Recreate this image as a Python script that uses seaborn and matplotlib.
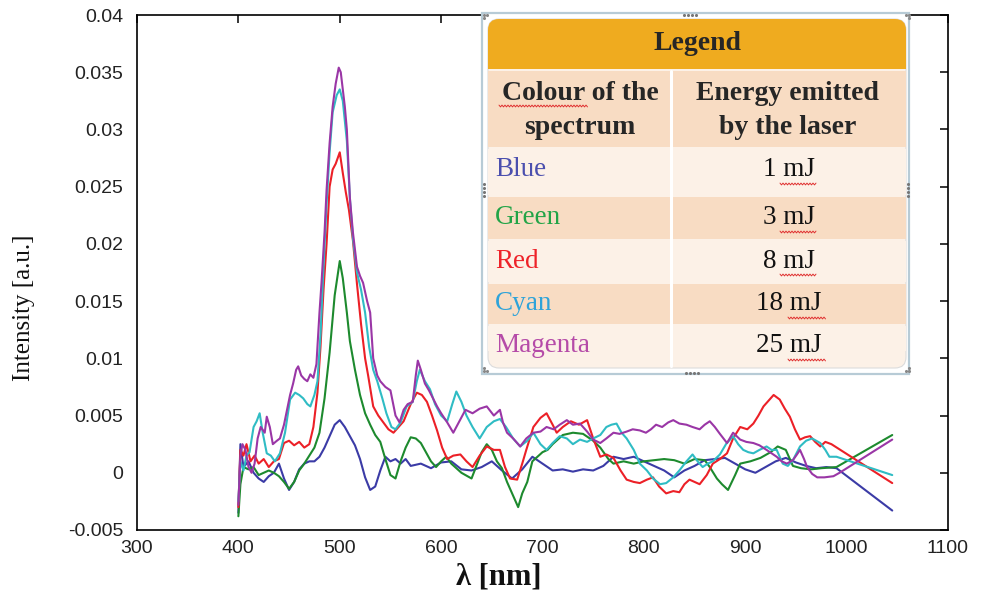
import numpy as np
import pandas as pd
import matplotlib
matplotlib.use("Agg")
import matplotlib.pyplot as plt
from matplotlib.patches import FancyBboxPatch, Rectangle
import seaborn as sns

# ---------------- data ----------------
wl_blue = [400, 402, 405, 410, 415, 420, 425, 430, 435, 440, 445, 450, 455, 460, 465, 470, 475, 480,
           485, 490, 495, 500, 505, 510, 515, 520, 525, 530, 535, 540, 545, 550, 555, 560, 565, 570,
           580, 590, 600, 610, 620, 630, 640, 650, 660, 670, 680, 690, 700, 710, 720, 730, 740, 750,
           760, 770, 780, 790, 800, 810, 820, 830, 840, 850, 860, 870, 880, 890, 900, 910, 920, 930,
           940, 950, 960, 970, 980, 990, 1045]
int_blue = [-0.0035, 0.0025, 0.0005, 0.0010, 0.0000, -0.0005, -0.0008, -0.0003, 0.0000, 0.0008, -0.0005,
            -0.0015, -0.0008, 0.0003, 0.0008, 0.0010, 0.0010, 0.0014, 0.0022, 0.0032, 0.0042, 0.0046,
            0.0040, 0.0032, 0.0024, 0.0012, -0.0004, -0.0015, -0.0012, 0.0002, 0.0014, 0.0010, 0.0012,
            0.0008, 0.0012, 0.0006, 0.0008, 0.0004, 0.0009, 0.0010, 0.0003, 0.0002, 0.0005, 0.0010,
            0.0002, -0.0005, 0.0003, 0.0014, 0.0008, 0.0002, 0.0003, 0.0001, 0.0003, 0.0002, 0.0006,
            0.0014, 0.0012, 0.0014, 0.0010, 0.0006, 0.0002, -0.0004, 0.0002, 0.0006, 0.0011, 0.0012,
            0.0013, 0.0008, 0.0003, 0.0000, 0.0005, 0.0010, 0.0013, 0.0009, 0.0006, 0.0004, 0.0005,
            0.0004, -0.0033]

wl_green = [400, 402, 405, 410, 415, 420, 425, 430, 435, 440, 445, 450, 455, 460, 465, 470, 475, 480,
            485, 490, 495, 500, 503, 507, 510, 515, 520, 525, 530, 535, 540, 545, 550, 555, 560, 565,
            570, 575, 580, 585, 590, 595, 600, 605, 610, 620, 630, 640, 645, 650, 655, 660, 665, 670,
            676, 680, 685, 690, 700, 705, 710, 720, 730, 740, 750, 757, 765, 770, 780, 790, 800, 810,
            820, 830, 840, 850, 860, 865, 872, 877, 883, 890, 895, 905, 915, 925, 932, 940, 947, 955,
            965, 975, 990, 1045]
int_green = [-0.0038, -0.0010, 0.0005, 0.0003, 0.0005, -0.0002, 0.0000, 0.0002, 0.0000, -0.0003, -0.0008,
             -0.0014, -0.0008, 0.0002, 0.0008, 0.0015, 0.0022, 0.0035, 0.0065, 0.0105, 0.0155, 0.0185,
             0.0170, 0.0140, 0.0115, 0.0090, 0.0068, 0.0052, 0.0042, 0.0033, 0.0027, 0.0012, -0.0002,
             -0.0005, 0.0010, 0.0022, 0.0031, 0.0030, 0.0026, 0.0018, 0.0010, 0.0005, 0.0010, 0.0014,
             0.0008, 0.0000, -0.0005, 0.0018, 0.0025, 0.0020, 0.0010, 0.0004, -0.0008, -0.0018, -0.0030,
             -0.0018, -0.0008, 0.0010, 0.0018, 0.0020, 0.0025, 0.0033, 0.0035, 0.0034, 0.0028, 0.0022,
             0.0012, 0.0008, 0.0010, 0.0008, 0.0010, 0.0011, 0.0012, 0.0011, 0.0008, 0.0012, 0.0011,
             0.0005, -0.0005, -0.0010, -0.0015, -0.0002, 0.0008, 0.0010, 0.0013, 0.0018, 0.0023, 0.0020,
             0.0006, 0.0004, 0.0003, 0.0004, 0.0005, 0.0033]

wl_red = [400, 402, 405, 408, 412, 416, 420, 425, 430, 435, 440, 445, 450, 455, 460, 465, 470, 474, 478,
          481, 484, 487, 490, 493, 496, 500, 503, 506, 509, 513, 517, 521, 525, 528, 533, 538, 543, 548,
          553, 558, 563, 570, 576, 581, 586, 591, 596, 601, 606, 612, 619, 625, 631, 638, 645, 652, 658,
          663, 668, 675, 680, 684, 691, 698, 704, 710, 714, 720, 728, 736, 744, 750, 757, 763, 770, 777,
          783, 790, 796, 803, 809, 815, 822, 829, 835, 840, 845, 850, 855, 862, 868, 875, 882, 888, 895,
          902, 908, 913, 918, 923, 928, 934, 939, 944, 949, 954, 959, 964, 969, 974, 979, 985, 1045]
int_red = [-0.0030, 0.0020, 0.0015, 0.0025, 0.0010, 0.0015, 0.0008, 0.0012, 0.0005, 0.0010, 0.0012,
           0.0026, 0.0028, 0.0024, 0.0027, 0.0022, 0.0025, 0.0040, 0.0070, 0.0110, 0.0160, 0.0200,
           0.0250, 0.0265, 0.0270, 0.0280, 0.0262, 0.0245, 0.0230, 0.0203, 0.0165, 0.0130, 0.0100,
           0.0085, 0.0058, 0.0050, 0.0044, 0.0038, 0.0035, 0.0040, 0.0045, 0.0060, 0.0070, 0.0068,
           0.0062, 0.0050, 0.0037, 0.0022, 0.0012, 0.0015, 0.0016, 0.0010, 0.0005, 0.0015, 0.0023,
           0.0020, 0.0020, 0.0005, -0.0005, -0.0006, 0.0008, 0.0020, 0.0040, 0.0048, 0.0052, 0.0042,
           0.0035, 0.0040, 0.0045, 0.0042, 0.0046, 0.0030, 0.0014, 0.0016, 0.0013, 0.0002, -0.0006,
           -0.0008, -0.0009, -0.0006, -0.0004, -0.0012, -0.0018, -0.0016, -0.0017, -0.0010, -0.0006,
           -0.0008, -0.0010, -0.0002, 0.0008, 0.0012, 0.0017, 0.0030, 0.0040, 0.0038, 0.0043, 0.0050,
           0.0058, 0.0063, 0.0068, 0.0064, 0.0056, 0.0049, 0.0038, 0.0029, 0.0031, 0.0032, 0.0027,
           0.0023, 0.0027, 0.0025, -0.0009]

wl_cyan = [400, 402, 405, 408, 411, 415, 418, 421, 424, 428, 432, 436, 441, 446, 451, 456, 460, 464, 468,
           471, 475, 478, 481, 484, 487, 490, 493, 497, 500, 503, 507, 510, 513, 517, 521, 525, 529, 533,
           537, 542, 546, 551, 555, 560, 566, 572, 576, 579, 584, 589, 594, 600, 606, 611, 615, 620, 625,
           631, 638, 645, 652, 658, 664, 671, 678, 685, 691, 698, 704, 710, 717, 724, 730, 737, 744, 750,
           757, 763, 768, 773, 778, 783, 790, 796, 803, 809, 816, 822, 829, 835, 842, 848, 853, 858, 863,
           868, 875, 881, 888, 893, 898, 903, 908, 914, 921, 926, 931, 937, 942, 947, 954, 960, 966, 970,
           974, 979, 983, 990, 1045]
int_cyan = [-0.0025, 0.0010, 0.0002, 0.0015, 0.0018, 0.0040, 0.0045, 0.0052, 0.0035, 0.0017, 0.0015,
            0.0010, 0.0017, 0.0035, 0.0064, 0.0070, 0.0068, 0.0065, 0.0060, 0.0058, 0.0068, 0.0080,
            0.0120, 0.0180, 0.0235, 0.0280, 0.0315, 0.0330, 0.0335, 0.0325, 0.0290, 0.0240, 0.0205,
            0.0175, 0.0160, 0.0140, 0.0110, 0.0090, 0.0080, 0.0065, 0.0052, 0.0040, 0.0038, 0.0044,
            0.0058, 0.0062, 0.0080, 0.0090, 0.0080, 0.0073, 0.0060, 0.0050, 0.0045, 0.0060, 0.0071,
            0.0062, 0.0050, 0.0040, 0.0030, 0.0040, 0.0045, 0.0047, 0.0040, 0.0030, 0.0023, 0.0028,
            0.0035, 0.0025, 0.0020, 0.0026, 0.0032, 0.0030, 0.0025, 0.0029, 0.0027, 0.0030, 0.0033,
            0.0040, 0.0042, 0.0043, 0.0035, 0.0030, 0.0020, 0.0008, 0.0002, -0.0005, -0.0010, -0.0009,
            -0.0004, 0.0002, 0.0010, 0.0016, 0.0010, 0.0005, 0.0008, 0.0010, 0.0016, 0.0025, 0.0032,
            0.0025, 0.0020, 0.0018, 0.0017, 0.0020, 0.0023, 0.0020, 0.0020, 0.0008, 0.0006, 0.0011,
            0.0023, 0.0028, 0.0030, 0.0028, 0.0026, 0.0020, 0.0014, 0.0014, -0.0002]

wl_magenta = [400, 402, 404, 407, 410, 413, 416, 419, 422, 426, 428, 431, 434, 438, 441, 445, 448, 451,
              454, 457, 459, 462, 465, 468, 471, 474, 477, 480, 482, 485, 487, 490, 493, 496, 499, 501,
              503, 505, 507, 510, 513, 517, 520, 523, 527, 530, 533, 537, 540, 545, 550, 555, 559, 563,
              567, 572, 575, 577, 580, 584, 588, 592, 596, 600, 606, 612, 618, 624, 631, 638, 645, 652,
              658, 661, 665, 671, 678, 684, 691, 698, 704, 711, 717, 724, 730, 737, 744, 750, 757, 763,
              770, 776, 783, 789, 796, 802, 807, 812, 818, 824, 829, 835, 842, 848, 855, 860, 865, 870,
              875, 882, 888, 895, 901, 908, 914, 921, 926, 931, 936, 941, 947, 951, 954, 958, 961, 966,
              971, 978, 987, 993, 1045]
int_magenta = [-0.0028, 0.0015, 0.0025, 0.0020, 0.0005, 0.0000, 0.0008, 0.0030, 0.0040, 0.0035, 0.0049,
               0.0040, 0.0025, 0.0028, 0.0030, 0.0042, 0.0055, 0.0068, 0.0078, 0.0090, 0.0093, 0.0085,
               0.0082, 0.0080, 0.0086, 0.0083, 0.0095, 0.0140, 0.0166, 0.0210, 0.0247, 0.0288, 0.0320,
               0.0340, 0.0354, 0.0350, 0.0335, 0.0320, 0.0300, 0.0240, 0.0210, 0.0180, 0.0172, 0.0166,
               0.0150, 0.0140, 0.0100, 0.0085, 0.0080, 0.0075, 0.0072, 0.0050, 0.0044, 0.0055, 0.0060,
               0.0062, 0.0085, 0.0098, 0.0090, 0.0078, 0.0072, 0.0065, 0.0058, 0.0052, 0.0044, 0.0035,
               0.0045, 0.0055, 0.0052, 0.0056, 0.0058, 0.0050, 0.0055, 0.0044, 0.0035, 0.0030, 0.0023,
               0.0030, 0.0035, 0.0036, 0.0040, 0.0038, 0.0042, 0.0046, 0.0042, 0.0043, 0.0036, 0.0029,
               0.0026, 0.0030, 0.0035, 0.0034, 0.0036, 0.0038, 0.0037, 0.0035, 0.0038, 0.0042, 0.0040,
               0.0044, 0.0046, 0.0043, 0.0042, 0.0040, 0.0038, 0.0042, 0.0045, 0.0040, 0.0034, 0.0026,
               0.0035, 0.0029, 0.0027, 0.0026, 0.0024, 0.0020, 0.0017, 0.0014, 0.0010, 0.0008, 0.0011,
               0.0016, 0.0020, 0.0012, 0.0005, -0.0001, -0.0004, -0.0004, -0.0003, 0.0000, 0.0029]

series_names = ["Blue", "Green", "Red", "Cyan", "Magenta"]
energies = ["1 mJ", "3 mJ", "8 mJ", "18 mJ", "25 mJ"]
line_colors = ["#3b3ba6", "#1d8a2e", "#ec2027", "#2fbcc4", "#9a36a6"]
text_colors = ["#4b4fae", "#22a447", "#ee2229", "#2ea3d9", "#b54ba8"]

x_ticks = [300, 400, 500, 600, 700, 800, 900, 1000, 1100]
y_ticks = [-0.005, 0, 0.005, 0.01, 0.015, 0.02, 0.025, 0.03, 0.035, 0.04]
y_tick_labels = ["-0.005", "0", "0.005", "0.01", "0.015", "0.02", "0.025", "0.03", "0.035", "0.04"]

# ---------------- build frame ----------------
wls = [wl_blue, wl_green, wl_red, wl_cyan, wl_magenta]
ints = [int_blue, int_green, int_red, int_cyan, int_magenta]
frames = []
for name, w, v in zip(series_names, wls, ints):
    frames.append(pd.DataFrame({"wl": w, "I": v, "series": name}))
df = pd.concat(frames, ignore_index=True)

sns.set_theme(style="white")
plt.rcParams["font.family"] = ["Liberation Sans", "DejaVu Sans"]

W, H = 984, 596
fig = plt.figure(figsize=(W / 100, H / 100), dpi=100)
fig.patch.set_facecolor("white")
ax = fig.add_axes([137 / W, 1 - 530 / H, (948 - 137) / W, (530 - 15) / H])

sns.lineplot(data=df, x="wl", y="I", hue="series", hue_order=series_names,
             palette=dict(zip(series_names, line_colors)), estimator=None, sort=False,
             linewidth=1.5, legend=False, ax=ax)

ax.set_xlim(300, 1100)
ax.set_ylim(-0.005, 0.04)
ax.set_xticks(x_ticks)
ax.set_xticklabels([str(t) for t in x_ticks], fontsize=14, color="#222222")
ax.set_yticks(y_ticks)
ax.set_yticklabels(y_tick_labels, fontsize=14, color="#222222")
ax.tick_params(direction="in", top=True, right=True, length=6, width=1.1, color="black", pad=7)
ax.tick_params(axis="y", pad=10)
for s in ax.spines.values():
    s.set_color("black")
    s.set_linewidth(1.2)
ax.set_xlabel("")
ax.set_ylabel("")

fig.text(24 / W, 1 - 308 / H, "Intensity [a.u.]", rotation=90, ha="center", va="center",
         fontsize=18, family=["Liberation Serif", "DejaVu Serif"], color="#111111")
fig.text(499 / W, 1 - 577 / H, "λ [nm]", ha="center", va="center", fontsize=22, fontweight="bold",
         family=["Liberation Serif", "DejaVu Serif"], color="#111111")

# ---------------- legend table (pixel-coordinate overlay) ----------------
lx = fig.add_axes([0, 0, 1, 1], facecolor="none")
lx.set_xlim(0, W)
lx.set_ylim(H, 0)
lx.axis("off")

# outer frame
lx.add_patch(Rectangle((482, 13), 427, 361, facecolor="white", edgecolor="#b7cbd6", linewidth=1.6, zorder=1))
# rounded table body
L, R, T, B = 488, 906, 19, 368
lx.add_patch(FancyBboxPatch((L, T), R - L, B - T, boxstyle="round,pad=0,rounding_size=11",
                            facecolor="#fcf1e7", edgecolor="#dcdcdc", linewidth=0.8, zorder=2))
# header orange with rounded top
lx.add_patch(FancyBboxPatch((L, T), R - L, 50, boxstyle="round,pad=0,rounding_size=11",
                            facecolor="#efab1f", edgecolor="none", zorder=3))
lx.add_patch(Rectangle((L, T + 30), R - L, 20, facecolor="#efab1f", edgecolor="none", zorder=3))
peach = "#f8dcc3"
light = "#fcf1e7"
rows = [(71, 147, peach), (149, 195, light), (197, 239, peach), (241, 282, light), (284, 324, peach)]
for y0, y1, c in rows:
    lx.add_patch(Rectangle((L, y0), R - L, y1 - y0, facecolor=c, edgecolor="none", zorder=3))
# bottom row rounded light
lx.add_patch(Rectangle((L, 326), R - L, 25, facecolor=light, edgecolor="none", zorder=3))
# column divider
lx.plot([671, 671], [71, B - 2], color="white", linewidth=2.2, zorder=4)

serif = ["Liberation Serif", "DejaVu Serif"]
lx.text(697, 44, "Legend", ha="center", va="center", fontsize=20, fontweight="bold", family=serif, zorder=5)
lx.text(580, 93, "Colour of the", ha="center", va="center", fontsize=20, fontweight="bold", family=serif, zorder=5)
lx.text(580, 128, "spectrum", ha="center", va="center", fontsize=20, fontweight="bold", family=serif, zorder=5)
lx.text(788, 93, "Energy emitted", ha="center", va="center", fontsize=20, fontweight="bold", family=serif, zorder=5)
lx.text(788, 128, "by the laser", ha="center", va="center", fontsize=20, fontweight="bold", family=serif, zorder=5)

row_y = [170, 218, 261, 304, 346]
for name, e, c, yy in zip(series_names, energies, text_colors, row_y):
    lx.text(495, yy, name, ha="left", va="center", fontsize=19.5, family=serif, color=c, zorder=5)
    lx.text(789, yy, e, ha="center", va="center", fontsize=19.5, family=serif, color="#111111", zorder=5)


def squiggle(x0, x1, y):
    xs = np.arange(x0, x1 + 0.1, 1.5)
    ys = y + np.where(np.arange(len(xs)) % 2 == 0, -0.9, 0.9)
    lx.plot(xs, ys, color="#e03030", linewidth=0.7, zorder=6)


squiggle(499, 588, 106)
for e, yy in zip(energies, row_y):
    if len(e) == 4:
        squiggle(780, 817, yy + 14)
    else:
        squiggle(788, 826, yy + 14)

# grip dots on the frame
dots_x = [684, 688, 692, 696, 686, 690, 694, 698]
dots_y = [15, 15, 15, 15, 373, 373, 373, 373]
lx.scatter(dots_x, dots_y, s=1.5, color="#777777", zorder=7)
lx.scatter([484, 484, 484, 484, 908, 908, 908, 908], [184, 188, 192, 196, 184, 188, 192, 196],
           s=1.5, color="#777777", zorder=7)
lx.scatter([484, 487, 484, 906, 909, 909, 484, 487, 484, 906, 909, 909],
           [15, 15, 18, 15, 15, 18, 371, 371, 368, 371, 371, 368], s=1.5, color="#888888", zorder=7)

fig.savefig("out.png", dpi=100, facecolor="white")
